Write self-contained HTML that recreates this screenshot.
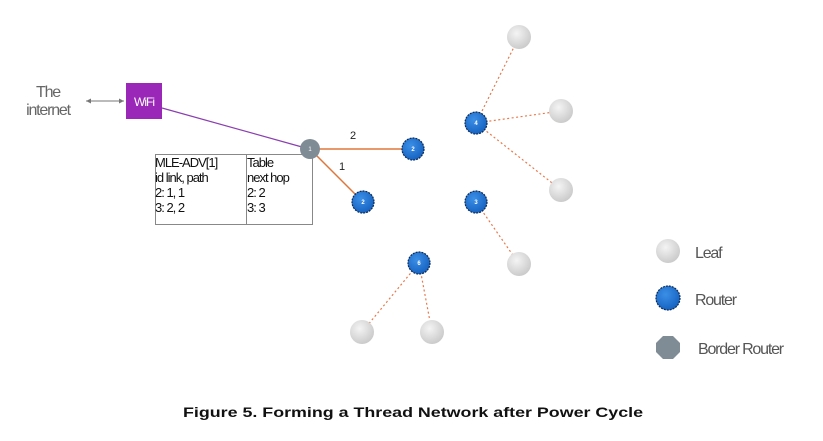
<!DOCTYPE html>
<html><head><meta charset="utf-8"><style>
html,body{margin:0;padding:0;background:#fff;}
svg{display:block;}
text{font-family:"Liberation Sans",sans-serif;}
</style></head><body>
<svg width="823" height="441" viewBox="0 0 823 441" xmlns="http://www.w3.org/2000/svg">
<defs>
<radialGradient id="lg" cx="40%" cy="35%" r="70%"><stop offset="0" stop-color="#f4f4f4"/><stop offset="1" stop-color="#c8c8c8"/></radialGradient>
<radialGradient id="rg" cx="40%" cy="35%" r="70%"><stop offset="0" stop-color="#3b8fe6"/><stop offset="1" stop-color="#1460c0"/></radialGradient>
</defs>
<text x="48" y="97" font-size="16" fill="#666" text-anchor="middle" letter-spacing="-1.2">The</text>
<text x="48" y="115" font-size="16" fill="#666" text-anchor="middle" letter-spacing="-1.2">internet</text>
<line x1="86" y1="101" x2="124" y2="101" stroke="#777" stroke-width="1"/>
<path d="M86 101 l5 -2.5 v5 z M124 101 l-5 -2.5 v5 z" fill="#777"/>
<rect x="126" y="83" width="36" height="36" fill="#9b27b8"/>
<text x="144" y="106" font-size="12" fill="#fff" text-anchor="middle" letter-spacing="-1">WiFi</text>
<line x1="162" y1="108" x2="302" y2="147" stroke="#8a3fb0" stroke-width="1.2"/>
<rect x="155.5" y="154.5" width="157" height="70" fill="#fff" stroke="#888"/>
<line x1="246.5" y1="154" x2="246.5" y2="225" stroke="#888"/>
<g font-size="13" fill="#111" letter-spacing="-1">
<text x="155" y="167">MLE-ADV[1]</text><text x="155" y="182">id link, path</text><text x="155" y="197">2: 1, 1</text><text x="155" y="212">3: 2, 2</text>
<text x="247" y="167">Table</text><text x="247" y="182">next hop</text><text x="247" y="197">2: 2</text><text x="247" y="212">3: 3</text>
</g>
<line x1="310" y1="149" x2="413" y2="149" stroke="#e0763a" stroke-width="1.5"/>
<line x1="310" y1="149" x2="363" y2="202" stroke="#e0763a" stroke-width="1.5"/>
<text x="353" y="139" font-size="11" fill="#222" text-anchor="middle">2</text>
<text x="342" y="170" font-size="11" fill="#222" text-anchor="middle">1</text>
<g stroke="#e8784a" stroke-width="1.2" stroke-dasharray="2,2.5">
<line x1="476" y1="123" x2="519" y2="37"/><line x1="476" y1="123" x2="561" y2="111"/><line x1="476" y1="123" x2="561" y2="190"/>
<line x1="476" y1="202" x2="519" y2="264"/>
<line x1="419" y1="263" x2="362" y2="332"/><line x1="419" y1="263" x2="432" y2="332"/>
</g>
<g fill="url(#lg)">
<circle cx="519" cy="37" r="12"/><circle cx="561" cy="111" r="12"/><circle cx="561" cy="190" r="12"/><circle cx="519" cy="264" r="12"/><circle cx="362" cy="332" r="12"/><circle cx="432" cy="332" r="12"/><circle cx="668" cy="251" r="12"/>
</g>
<g fill="url(#rg)" stroke="#0d2a55" stroke-width="1.2" stroke-dasharray="2,1">
<circle cx="413" cy="149" r="11"/><circle cx="363" cy="202" r="11"/><circle cx="476" cy="123" r="11"/><circle cx="476" cy="202" r="11"/><circle cx="419" cy="263" r="11"/><circle cx="668" cy="298" r="12"/>
</g>
<g font-size="6" fill="#fff" text-anchor="middle" font-weight="bold">
<text x="413" y="151">2</text><text x="363" y="204">2</text><text x="476" y="125">4</text><text x="476" y="204">3</text><text x="419" y="265">6</text>
</g>
<circle cx="310" cy="149" r="10" fill="#7f8c96"/>
<text x="310" y="151" font-size="6" fill="#fff" text-anchor="middle">1</text>
<polygon points="663,336 673,336 680,343 680,352 673,359 663,359 656,352 656,343" fill="#7f8c96"/>
<g font-size="16" fill="#555" letter-spacing="-1.2">
<text x="695" y="258">Leaf</text><text x="695" y="305">Router</text><text x="698" y="354">Border Router</text>
</g>
<text x="413" y="417" font-family="'DejaVu Sans',sans-serif" font-size="14" font-weight="bold" fill="#111" text-anchor="middle" textLength="460" lengthAdjust="spacingAndGlyphs">Figure 5. Forming a Thread Network after Power Cycle</text>
</svg>
</body></html>
